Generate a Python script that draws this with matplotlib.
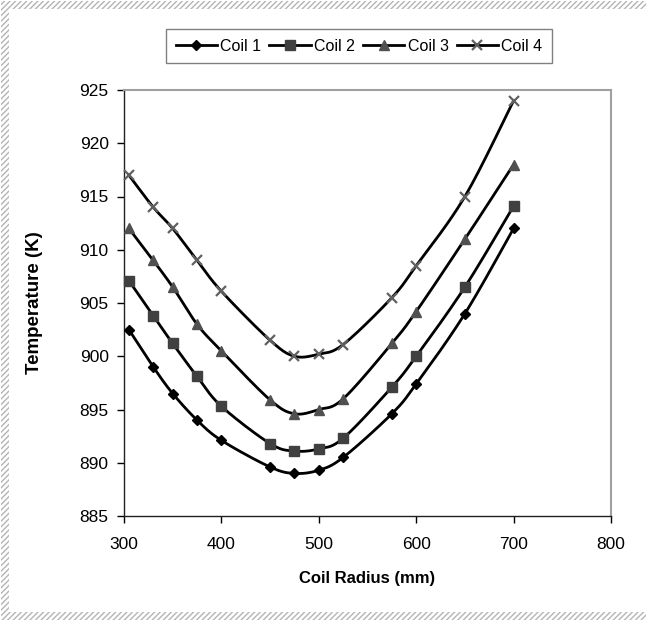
import numpy as np
import matplotlib
matplotlib.use("Agg")
import matplotlib.pyplot as plt
from matplotlib.patches import Rectangle

plt.rcParams['font.family'] = ['Liberation Sans', 'DejaVu Sans']
plt.rcParams['hatch.linewidth'] = 1.0

# data
radius = [305, 330, 350, 375, 400, 450, 475, 500, 525, 575, 600, 650, 700]
coil1 = [902.5, 899.0, 896.5, 894.0, 892.1, 889.6, 889.0, 889.3, 890.5, 894.6, 897.4, 904.0, 912.0]
coil2 = [907.1, 903.8, 901.2, 898.1, 895.3, 891.8, 891.1, 891.3, 892.3, 897.1, 900.0, 906.5, 914.1]
coil3 = [912.0, 909.0, 906.5, 903.0, 900.5, 895.9, 894.6, 895.0, 896.0, 901.2, 904.2, 911.0, 918.0]
coil4 = [917.0, 914.0, 912.0, 909.0, 906.1, 901.5, 900.0, 900.2, 901.1, 905.5, 908.5, 915.0, 924.0]
labels = ['Coil 1', 'Coil 2', 'Coil 3', 'Coil 4']


def smooth(xs, ys, n=30):
    # excel-like smoothed line (bezier through the points)
    p = np.column_stack([xs, ys]).astype(float)
    p_ext = np.vstack([p[0], p, p[-1]])
    t = np.linspace(0, 1, n)[:, None]
    out = []
    for i in range(len(p) - 1):
        p0, p1, p2, p3 = p_ext[i], p_ext[i + 1], p_ext[i + 2], p_ext[i + 3]
        c1 = p1 + (p2 - p0) / 6
        c2 = p2 - (p3 - p1) / 6
        seg = ((1 - t) ** 3) * p1 + 3 * ((1 - t) ** 2) * t * c1 + 3 * (1 - t) * t ** 2 * c2 + t ** 3 * p2
        out.append(seg if i == 0 else seg[1:])
    out = np.vstack(out)
    return out[:, 0], out[:, 1]


fig = plt.figure(figsize=(6.46, 6.26), dpi=100)
W, H = 646, 626

# hatched frame (left, top, bottom; right side is cut off in the reference)
band = 8
strips = [
    (1, 1, W, band),
    (1, 612, W, band),
    (1, 1, band, 619),
]
for x0, y0, w, h in strips:
    fig.patches.append(Rectangle((x0 / W, 1 - (y0 + h) / H), w / W, h / H,
                                 transform=fig.transFigure, facecolor='white',
                                 edgecolor='#b4b4b4', hatch='//////', linewidth=0))

ax = fig.add_axes([124 / W, 1 - 516 / H, (611 - 124) / W, (516 - 90) / H])

styles = [
    dict(marker='D', ms=5.5, mfc='#000000', mec='#000000'),
    dict(marker='s', ms=6.5, mfc='#404040', mec='#404040'),
    dict(marker='^', ms=7.5, mfc='#505050', mec='#505050'),
    dict(marker='x', ms=7.5, mfc='#606060', mec='#606060', mew=1.6),
]
handles = []
for ys, lab, st in zip([coil1, coil2, coil3, coil4], labels, styles):
    sx, sy = smooth(radius, ys)
    ax.plot(sx, sy, color='black', lw=2.0, zorder=2)
    ax.plot(radius, ys, ls='none', marker=st['marker'], ms=st['ms'], mfc=st['mfc'],
            mec=st['mec'], mew=st.get('mew', 1.0), zorder=3, clip_on=False)
    h, = ax.plot([], [], color='black', lw=2.0, marker=st['marker'], ms=st['ms'],
                 mfc=st['mfc'], mec=st['mec'], mew=st.get('mew', 1.0))
    handles.append(h)

ax.set_xlim(300, 800)
ax.set_ylim(885, 925)
ax.set_xticks(np.arange(300, 801, 100))
ax.set_yticks(np.arange(885, 926, 5))
ax.tick_params(direction='out', length=5, width=1, labelsize=12.5, colors='black', pad=6)
ax.tick_params(axis='x', pad=10)
for s in ['top', 'right']:
    ax.spines[s].set_color('#a0a0a0')
    ax.spines[s].set_linewidth(1.5)
for s in ['left', 'bottom']:
    ax.spines[s].set_color('#202020')
    ax.spines[s].set_linewidth(1.0)

ax.set_xlabel('Coil Radius (mm)', fontsize=12, fontweight='bold', labelpad=14)
ax.set_ylabel('Temperature (K)', fontsize=13.5, fontweight='bold', labelpad=26)

leg = fig.legend(handles, labels, loc='upper center', bbox_to_anchor=(359 / W, 1 - 29 / H),
                 ncol=4, frameon=True, fancybox=False, fontsize=11.5, handlelength=2.6,
                 handletextpad=0.2, columnspacing=0.5, borderpad=0.6, borderaxespad=0)
leg.get_frame().set_edgecolor('#606060')
leg.get_frame().set_linewidth(1.0)

fig.savefig('out.png', dpi=100)
